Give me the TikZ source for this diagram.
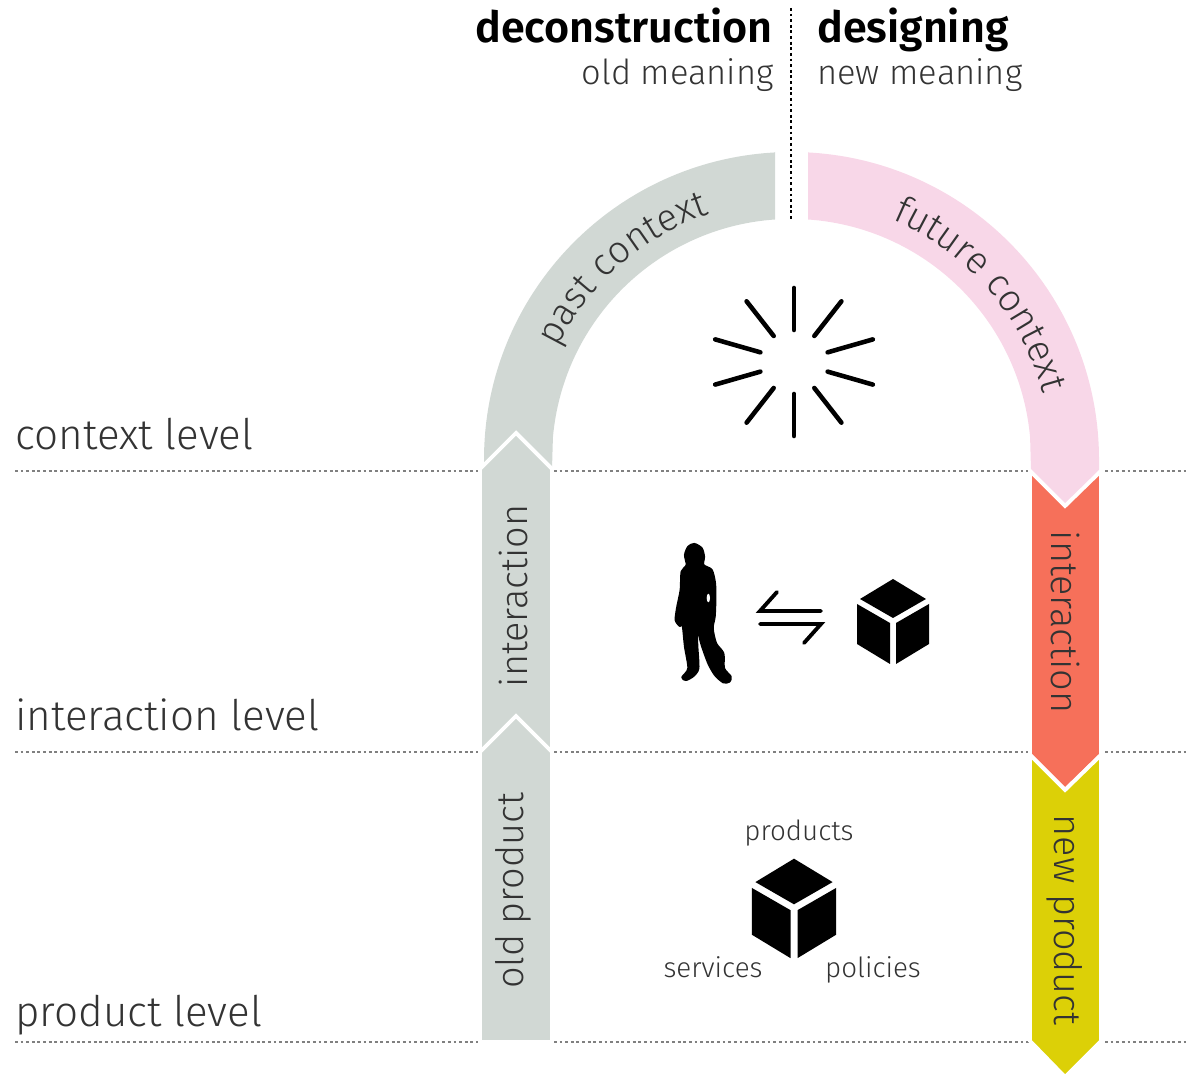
\documentclass[tikz,border=0pt]{standalone}
\usepackage{fontspec}
\usetikzlibrary{decorations.text}
\newfontfamily\lightfont{Fira Sans Light}
\newfontfamily\boldfont{Fira Sans SemiBold}
\definecolor{pastgray}{HTML}{D1D8D4}
\definecolor{futurepink}{HTML}{F8D7E8}
\definecolor{interred}{HTML}{F6705A}
\definecolor{newyellow}{HTML}{DCD007}
\definecolor{inktext}{HTML}{333333}
\newcommand{\levelsize}{\fontsize{24}{27}\selectfont}
\newcommand{\bandsize}{\fontsize{21.5}{24}\selectfont}
\begin{document}
\begin{tikzpicture}[x=0.02cm, y=0.02cm,
    band/.style={draw=white, line width=2.2pt, line join=miter},
    levelline/.style={gray, dash pattern=on 1.6pt off 1.6pt, line width=1pt},
    heading/.style={font=\boldfont\fontsize{24.5}{27}\selectfont, text=black, inner sep=0pt},
    subheading/.style={font=\lightfont\fontsize{19.6}{22}\selectfont, text=inktext, inner sep=0pt},
    level/.style={font=\lightfont\levelsize, text=inktext, inner sep=0pt, anchor=base west},
    bandlabel/.style={font=\lightfont\bandsize, text=inktext, inner sep=0pt},
    small/.style={font=\lightfont\fontsize{15.8}{18}\selectfont, text=inktext, inner sep=0pt, anchor=base},
    ray/.style={line width=2.6pt, line cap=round},
    cube/.pic={
        \fill (0,43) -- (-33,23) -- (0,4) -- (33,23) -- cycle;
        \fill (-36,18) -- (-3,-1) -- (-3,-42) -- (-36,-22) -- cycle;
        \fill (36,18) -- (3,-1) -- (3,-42) -- (36,-22) -- cycle;
    }]
    \useasboundingbox (0,0) rectangle (1186,1074);

    % Level lines
    \draw[levelline] (15,603) -- (481,603);
    \draw[levelline] (554,603) -- (1030,603);
    \draw[levelline] (1105,603) -- (1186,603);
    \draw[levelline] (15,322) -- (481,322);
    \draw[levelline] (554,322) -- (1030,322);
    \draw[levelline] (1105,322) -- (1186,322);
    \draw[levelline] (15,32) -- (481,32);
    \draw[levelline] (554,32) -- (1030,32);
    \draw[levelline] (1105,32) -- (1186,32);
    \draw[levelline, black] (791,1066) -- (791,855);

    % Arch
    \fill[pastgray] (775,922) -- (775,854.5) arc[start angle=93.95, end angle=175, radius=239.5]
        -- (552,605) -- (516,641) -- (484,609) -- (484,614.5) arc[start angle=180, end angle=93.1, radius=307.5] -- cycle;
    \fill[futurepink] (808,922) -- (808,854.5) arc[start angle=86.05, end angle=5, radius=239.5]
        -- (1031,604) -- (1065,569) -- (1099,604) -- (1099,614.5) arc[start angle=0, end angle=86.9, radius=307.5] -- cycle;

    % Bands
    \draw[band, fill=pastgray] (480,322) -- (480,605) -- (516,641) -- (552,605) -- (552,322) -- cycle;
    \draw[band, fill=pastgray] (480,32) -- (480,322) -- (516,358) -- (552,322) -- (552,32) -- cycle;
    \draw[band, fill=interred] (1030,603) -- (1065,568) -- (1101,603) -- (1101,319) -- (1065,284) -- (1030,319) -- cycle;
    \draw[band, fill=newyellow] (1030,319) -- (1065,284) -- (1101,319) -- (1101,33) -- (1065,-3) -- (1030,33) -- cycle;

    % Curved labels
    \path[decorate, decoration={text along path, text align=center,
        text={|\lightfont\bandsize\color{inktext}|past context}}]
        (791.5,614.5) ++(171.5:259) arc[start angle=171.5, end angle=91.5, radius=259];
    \path[decorate, decoration={text along path, text align=center,
        text={|\lightfont\bandsize\color{inktext}|future context}}]
        (791.5,614.5) ++(81:260) arc[start angle=81, end angle=1, radius=260];

    % Burst
    \foreach \angle/\inner/\outer in {90/32/74, 52/33/77, 16/35/82, -16/35/82, -52/33/77, -90/32/74,
        -128/33/77, -164/35/82, 164/35/82, 128/33/77} {
        \draw[ray] (794,712) ++(\angle:\inner) -- ++(\angle:\outer-\inner);
    }

    % Person
    \begin{scope}[shift={(640,554)}, xscale=1/3, yscale=-1/3]
        \filldraw[line width=1.2pt, line join=round] plot[smooth cycle, tension=0.45] coordinates {
            (163,72) (185,85) (192,110) (190,135) (215,150) (225,190) (226,240) (224,290) (218,325)
            (228,370) (250,400) (252,445) (272,470) (268,485) (250,487) (225,465) (205,430) (185,375)
            (170,320) (172,380) (175,445) (160,468) (138,480) (127,472) (145,445) (135,380) (128,315)
            (120,318) (107,300) (112,260) (122,210) (125,155) (140,135) (135,105) (145,80)};
        \fill[white] (205,234) ellipse [x radius=5, y radius=13];
    \end{scope}

    % Exchange arrows
    \draw[line width=2.2pt, line cap=round, line join=miter] (821,463) -- (760,463) -- (777,482);
    \draw[line width=2.2pt, line cap=round, line join=miter] (760,450) -- (821,450) -- (804,431);

    % Cubes
    \pic at (893,452) {cube};
    \pic[scale=1.17] at (794,165) {cube};

    % Labels
    \node[heading, anchor=base east] (deconstruction) at (773,1031) {deconstruction};
    \node[heading, anchor=base west] (designing) at (817,1031) {designing};
    \node[subheading, anchor=base east] (oldmeaning) at (774,989) {old meaning};
    \node[subheading, anchor=base west] (newmeaning) at (817,989) {new meaning};
    \node[level] (contextlevel) at (15,624) {context level};
    \node[level] (interactionlevel) at (15,343) {interaction level};
    \node[level] (productlevel) at (15,47) {product level};
    \node[bandlabel, rotate=90] (interactionleft) at (513,478) {interaction};
    \node[bandlabel, rotate=90] (oldproduct) at (513,183) {old product};
    \node[bandlabel, rotate=-90] (interactionright) at (1065,452) {interaction};
    \node[bandlabel, rotate=-90] (newproduct) at (1065,154) {new product};
    \node[small] (products) at (799,233) {products};
    \node[small] (services) at (713,96) {services};
    \node[small] (policies) at (873,96) {policies};
\end{tikzpicture}
\end{document}
